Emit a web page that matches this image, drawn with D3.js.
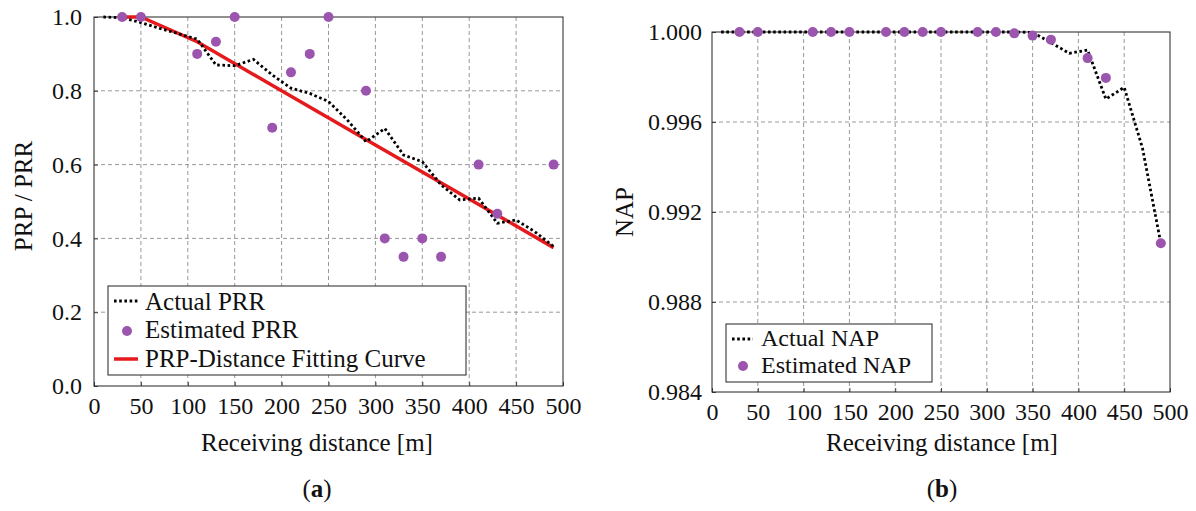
<!DOCTYPE html>
<html>
<head>
<meta charset="utf-8">
<title>PRR / NAP vs receiving distance</title>
<script src="https://d3js.org/d3.v7.min.js"></script>
<style>
body { margin: 0; background: #fff; }
text { font-family: "Liberation Serif", "Times New Roman", serif; fill: #111; }
</style>
</head>
<body>
<div id="chart"></div>
<script>
// distances every 20 m
var distActual = [10, 30, 50, 70, 90, 110, 130, 150, 170, 190, 210, 230, 250,
  270, 290, 310, 330, 350, 370, 390, 410, 430, 450, 470, 490];
var prrActual = [1.0, 0.998, 0.985, 0.969, 0.955, 0.94, 0.87, 0.868, 0.885, 0.843, 0.807, 0.793, 0.771,
  0.721, 0.662, 0.698, 0.626, 0.608, 0.545, 0.504, 0.509, 0.441, 0.45, 0.418, 0.378];

var distEst = [30, 50, 110, 130, 150, 190, 210, 230, 250, 290, 310, 330, 350, 370, 410, 430, 490];
var prrEst = [1.0, 1.0, 0.9, 0.933, 1.0, 0.7, 0.85, 0.9, 1.0, 0.8, 0.4, 0.35, 0.4, 0.35, 0.6, 0.467, 0.6];

var distFit = [30, 50, 110, 200, 300, 400, 490];
var prpFit = [1.0, 1.0, 0.933, 0.80, 0.653, 0.507, 0.375];

var napActual = [1, 1, 1, 1, 1, 1, 1, 1, 1, 1, 1, 1, 1,
  1, 1, 1, 1, 0.99998, 0.99953, 0.99905, 0.9992, 0.99702, 0.99754, 0.99483, 0.9906];

var distNapEst = [30, 50, 110, 130, 150, 190, 210, 230, 250, 290, 310, 330, 350, 370, 410, 430, 490];
var napEst = [1, 1, 1, 1, 1, 1, 1, 1, 1, 1, 1, 0.99994, 0.99984, 0.99966, 0.99884, 0.99796, 0.99061];

var xTicks = [0, 50, 100, 150, 200, 250, 300, 350, 400, 450, 500];
var prrTicks = [0, 0.2, 0.4, 0.6, 0.8, 1.0];
var napTicks = [0.984, 0.988, 0.992, 0.996, 1.000];

var purple = "#9b55ae", red = "#e41a1c";

var svg = d3.select("#chart").append("svg")
  .attr("width", 1196).attr("height", 511);

function panel(opt) {
  var x = d3.scaleLinear().domain([0, 500]).range([opt.left, opt.right]);
  var y = d3.scaleLinear().domain(opt.yDomain).range([opt.bottom, opt.top]);
  var g = svg.append("g");

  // grid
  g.selectAll(".gx").data(xTicks.slice(1, -1)).enter().append("line")
    .attr("x1", d => x(d)).attr("x2", d => x(d))
    .attr("y1", opt.top).attr("y2", opt.bottom)
    .attr("stroke", "#999").attr("stroke-width", 1).attr("stroke-dasharray", "4,3");
  g.selectAll(".gy").data(opt.yTicks.slice(1, -1)).enter().append("line")
    .attr("y1", d => y(d)).attr("y2", d => y(d))
    .attr("x1", opt.left).attr("x2", opt.right)
    .attr("stroke", "#999").attr("stroke-width", 1).attr("stroke-dasharray", "4,3");

  // axes (ticks drawn inward)
  var xa = g.append("g").attr("transform", "translate(0," + opt.bottom + ")")
    .call(d3.axisBottom(x).tickValues(xTicks).tickSize(-4).tickPadding(11).tickFormat(d3.format("d")));
  var ya = g.append("g").attr("transform", "translate(" + opt.left + ",0)")
    .call(d3.axisLeft(y).tickValues(opt.yTicks).tickSize(-4).tickPadding(opt.yPad).tickFormat(d3.format(opt.fmt)));
  [xa, ya].forEach(function (a) {
    a.select(".domain").remove();
    a.selectAll("line").attr("stroke", "#444");
    a.selectAll("text").style("font-size", "24px").style("font-family", "'Liberation Serif', serif").attr("fill", "#111");
  });

  g.append("rect").attr("x", opt.left).attr("y", opt.top)
    .attr("width", opt.right - opt.left).attr("height", opt.bottom - opt.top)
    .attr("fill", "none").attr("stroke", "#222").attr("stroke-width", 1);

  g.append("text").attr("x", opt.capX).attr("y", 451)
    .attr("text-anchor", "middle").style("font-size", "25px").text("Receiving distance [m]");
  g.append("text").attr("x", opt.capX).attr("y", 497)
    .attr("text-anchor", "middle").style("font-size", "25px")
    .html("(<tspan font-weight='bold'>" + opt.tag + "</tspan>)");
  g.append("text")
    .attr("transform", "translate(" + opt.yLabelX + "," + opt.yLabelY + ") rotate(-90)")
    .attr("text-anchor", "middle").style("font-size", "25px").text(opt.yLabel);

  return { g: g, x: x, y: y };
}

// ---- panel (a)
var a = panel({ left: 94, right: 563, top: 17, bottom: 386, yDomain: [0, 1], yTicks: prrTicks,
  fmt: ".1f", yPad: 12, tag: "a", yLabel: "PRP / PRR", yLabelX: 32, yLabelY: 196, capX: 317 });

a.g.append("path")
  .datum(distFit.map((d, i) => [d, prpFit[i]]))
  .attr("fill", "none").attr("stroke", red).attr("stroke-width", 3.5)
  .attr("d", d3.line().x(d => a.x(d[0])).y(d => a.y(d[1])));
a.g.append("path")
  .datum(distActual.map((d, i) => [d, prrActual[i]]))
  .attr("fill", "none").attr("stroke", "#000").attr("stroke-width", 2.8)
  .attr("stroke-dasharray", "2.6,2.6")
  .attr("d", d3.line().x(d => a.x(d[0])).y(d => a.y(d[1])));
a.g.selectAll(".est").data(distEst).enter().append("circle")
  .attr("cx", d => a.x(d)).attr("cy", (d, i) => a.y(prrEst[i])).attr("r", 5).attr("fill", purple);

// legend (a)
var la = a.g.append("g");
la.append("rect").attr("x", 108).attr("y", 286).attr("width", 358).attr("height", 89)
  .attr("fill", "#fff").attr("stroke", "#222");
la.append("line").attr("x1", 114).attr("x2", 138).attr("y1", 301).attr("y2", 301)
  .attr("stroke", "#000").attr("stroke-width", 2.8).attr("stroke-dasharray", "2.6,2.6");
la.append("circle").attr("cx", 127).attr("cy", 331).attr("r", 5).attr("fill", purple);
la.append("line").attr("x1", 114).attr("x2", 138).attr("y1", 359).attr("y2", 359)
  .attr("stroke", red).attr("stroke-width", 3.5);
["Actual PRR", "Estimated PRR", "PRP-Distance Fitting Curve"].forEach(function (t, i) {
  la.append("text").attr("x", 145).attr("y", 309.5 + i * 28.5).style("font-size", "25px").text(t);
});

// ---- panel (b)
var b = panel({ left: 712, right: 1170, top: 32, bottom: 392, yDomain: [0.984, 1.0], yTicks: napTicks,
  fmt: ".3f", yPad: 10, tag: "b", yLabel: "NAP", yLabelX: 633, yLabelY: 212, capX: 942 });

b.g.append("path")
  .datum(distActual.map((d, i) => [d, napActual[i]]))
  .attr("fill", "none").attr("stroke", "#000").attr("stroke-width", 2.8)
  .attr("stroke-dasharray", "2.6,2.6")
  .attr("d", d3.line().x(d => b.x(d[0])).y(d => b.y(d[1])));
b.g.selectAll(".est").data(distNapEst).enter().append("circle")
  .attr("cx", d => b.x(d)).attr("cy", (d, i) => b.y(napEst[i])).attr("r", 5).attr("fill", purple);

var lb = b.g.append("g");
lb.append("rect").attr("x", 726).attr("y", 324).attr("width", 206).attr("height", 58)
  .attr("fill", "#fff").attr("stroke", "#222");
lb.append("line").attr("x1", 732).attr("x2", 753).attr("y1", 339).attr("y2", 339)
  .attr("stroke", "#000").attr("stroke-width", 2.8).attr("stroke-dasharray", "2.6,2.6");
lb.append("circle").attr("cx", 743).attr("cy", 366).attr("r", 5).attr("fill", purple);
["Actual NAP", "Estimated NAP"].forEach(function (t, i) {
  lb.append("text").attr("x", 761).attr("y", 346 + i * 27).style("font-size", "24px").text(t);
});
</script>
</body>
</html>
